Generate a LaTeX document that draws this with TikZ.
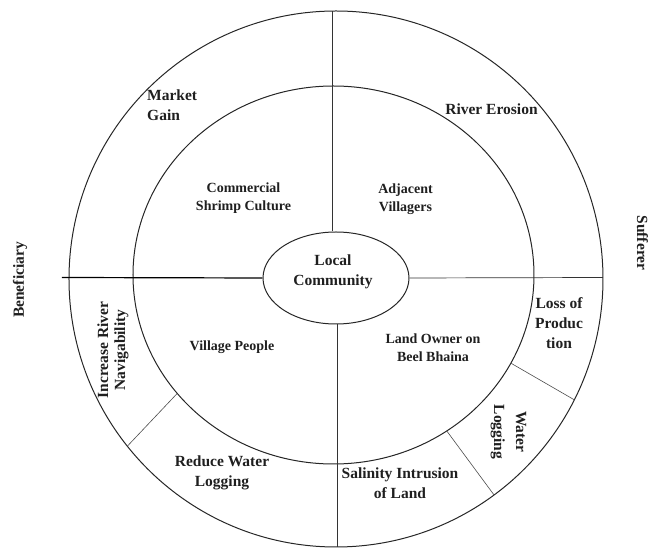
\documentclass[tikz,border=0pt]{standalone}
\usepackage{fontspec}
\setmainfont{Liberation Serif}
\usepackage{tikz}
\usetikzlibrary{shapes}
\usetikzlibrary{positioning}
\usetikzlibrary{calc}
\tikzstyle{ring}=[draw=black!85,line width=1pt]
\tikzstyle{hub}=[ellipse,draw=black!85,line width=1pt,minimum width=146pt,minimum height=92pt,inner sep=0pt]
\tikzstyle{spoke}=[draw=black!80,line width=0.7pt]
\tikzstyle{divider}=[draw=black!70,line width=0.6pt]
\tikzstyle{outertext}=[font=\bfseries\fontsize{15.5}{20}\selectfont,text=black!88,align=center,inner sep=0pt,anchor=base]
\tikzstyle{innertext}=[font=\bfseries\fontsize{14}{18.4}\selectfont,text=black!88,align=center,inner sep=0pt,anchor=base]

\begin{document}
\begin{tikzpicture}[x=1pt,y=1pt]

    \def\rx{267};
    \def\ry{268};
    \def\ix{200.5};
    \def\iy{189};

    \useasboundingbox (-336,-269) rectangle (313,279);

% Rings
    \coordinate (c) at (0,0);
    \coordinate (ic) at (-2.5,4);
    \draw[ring] (c) ellipse [x radius=\rx, y radius=\ry];
    \draw[ring] (ic) ellipse [x radius=\ix, y radius=\iy];

% Hub
    \node[hub] (local) at (0,1) {};

% Spokes
    \coordinate (topend) at (-4,\ry);
    \coordinate (botend) at (1,-\ry);
    \coordinate (leftend) at (-274,1.5);
    \coordinate (rightend) at (\rx,1.5);
    \path[spoke] (local.north -| topend) -- (topend);
    \path[spoke] (local.south -| botend) -- (botend);
    \path[spoke,draw=black,line width=1.2pt] (local.west) -- (leftend);
    \path[spoke] (local.east) -- (rightend);

% Dividers in the outer ring
    \foreach \ain/\aout/\name in {218.8/218.6/d1, -27.8/-26.8/d2, -55.6/-53.7/d3}
    {
        \coordinate (\name-i) at ($(ic)+({\ix*cos(\ain)},{\iy*sin(\ain)})$);
        \coordinate (\name-o) at ({\rx*cos(\aout)},{\ry*sin(\aout)});
        \path[divider] (\name-i) -- (\name-o);
    }

% Labels, outer ring (base = last line)
    \node[outertext,anchor=base west,align=left] (market) at (-189,158) {Market\\Gain};
    \node[outertext] (erosion) at (155.5,164) {River Erosion};
    \node[outertext] (loss) at (223,-69.5) {Loss of\\Produc\\tion};
    \node[outertext,anchor=center,rotate=-90,font=\bfseries\fontsize{15.5}{22}\selectfont] (waterlog) at (172.5,-153) {Water\\Logging};
    \node[outertext] (salinity) at (64,-219.6) {Salinity Intrusion\\of Land};
    \node[outertext] (reduce) at (-114,-208) {Reduce Water\\Logging};
    \node[outertext,anchor=center,rotate=90,font=\bfseries\fontsize{15.5}{17}\selectfont] (navig) at (-223,-71) {Increase River\\Navigability};

% Labels, inner ring
    \node[innertext] (shrimp) at (-92.5,68.3) {Commercial\\Shrimp Culture};
    \node[innertext] (adjacent) at (69.5,67.3) {Adjacent\\Villagers};
    \node[innertext] (village) at (-104,-72) {Village People};
    \node[innertext] (landowner) at (97,-83) {Land Owner on\\Beel Bhaina};
    \node[outertext] (localtext) at (-3,-6.7) {Local\\Community};

% Sides
    \node[outertext,anchor=center,rotate=90] (benef) at (-316,-1) {Beneficiary};
    \node[outertext,anchor=center,rotate=-90] (suff) at (306.5,36) {Sufferer};

\end{tikzpicture}
\end{document}
